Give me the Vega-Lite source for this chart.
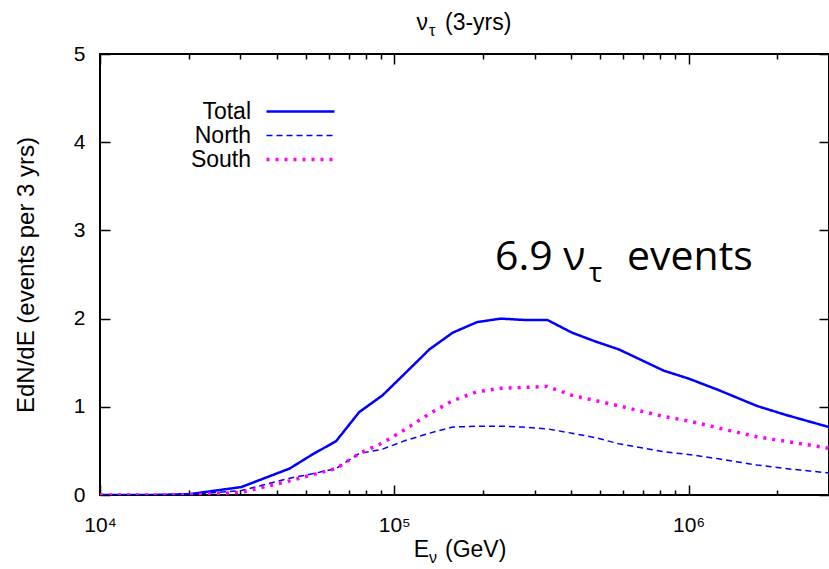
{
  "$schema": "https://vega.github.io/schema/vega-lite/v6.json",
  "width": 729,
  "height": 441,
  "autosize": {"type": "none"},
  "padding": {"left": 100, "top": 54, "right": 0, "bottom": 74},
  "background": "white",
  "config": {
    "view": {"stroke": "black", "strokeWidth": 2},
    "axis": {
      "grid": false,
      "domain": false,
      "tickColor": "black",
      "tickWidth": 1.5,
      "labelFont": "Liberation Sans",
      "labelFontSize": 21,
      "labelColor": "black",
      "titleFont": "Liberation Sans",
      "titleFontWeight": "normal",
      "titleColor": "#000000"
    },
    "text": {"font": "Liberation Sans", "color": "black"}
  },
  "layer": [
    {
      "data": {
        "values": [
          {"E": 10000, "dNdE": 0, "series": "Total"},
          {"E": 15000, "dNdE": 0, "series": "Total"},
          {"E": 20200, "dNdE": 0.01, "series": "Total"},
          {"E": 30200, "dNdE": 0.09, "series": "Total"},
          {"E": 44100, "dNdE": 0.30, "series": "Total"},
          {"E": 52700, "dNdE": 0.46, "series": "Total"},
          {"E": 63400, "dNdE": 0.61, "series": "Total"},
          {"E": 76000, "dNdE": 0.94, "series": "Total"},
          {"E": 91200, "dNdE": 1.13, "series": "Total"},
          {"E": 109600, "dNdE": 1.39, "series": "Total"},
          {"E": 131500, "dNdE": 1.65, "series": "Total"},
          {"E": 157800, "dNdE": 1.84, "series": "Total"},
          {"E": 191000, "dNdE": 1.96, "series": "Total"},
          {"E": 230000, "dNdE": 2.00, "series": "Total"},
          {"E": 275000, "dNdE": 1.985, "series": "Total"},
          {"E": 331000, "dNdE": 1.985, "series": "Total"},
          {"E": 402000, "dNdE": 1.84, "series": "Total"},
          {"E": 483000, "dNdE": 1.74, "series": "Total"},
          {"E": 580000, "dNdE": 1.65, "series": "Total"},
          {"E": 823000, "dNdE": 1.41, "series": "Total"},
          {"E": 1000000, "dNdE": 1.32, "series": "Total"},
          {"E": 1264000, "dNdE": 1.19, "series": "Total"},
          {"E": 1706000, "dNdE": 1.01, "series": "Total"},
          {"E": 2130000, "dNdE": 0.91, "series": "Total"},
          {"E": 3000000, "dNdE": 0.77, "series": "Total"},
          {"E": 10000, "dNdE": 0, "series": "North"},
          {"E": 15000, "dNdE": 0, "series": "North"},
          {"E": 20200, "dNdE": 0.005, "series": "North"},
          {"E": 30200, "dNdE": 0.05, "series": "North"},
          {"E": 44100, "dNdE": 0.19, "series": "North"},
          {"E": 52700, "dNdE": 0.24, "series": "North"},
          {"E": 63400, "dNdE": 0.30, "series": "North"},
          {"E": 76000, "dNdE": 0.47, "series": "North"},
          {"E": 91200, "dNdE": 0.52, "series": "North"},
          {"E": 109600, "dNdE": 0.62, "series": "North"},
          {"E": 131500, "dNdE": 0.70, "series": "North"},
          {"E": 157800, "dNdE": 0.77, "series": "North"},
          {"E": 191000, "dNdE": 0.78, "series": "North"},
          {"E": 230000, "dNdE": 0.78, "series": "North"},
          {"E": 275000, "dNdE": 0.77, "series": "North"},
          {"E": 331000, "dNdE": 0.75, "series": "North"},
          {"E": 402000, "dNdE": 0.70, "series": "North"},
          {"E": 483000, "dNdE": 0.65, "series": "North"},
          {"E": 580000, "dNdE": 0.58, "series": "North"},
          {"E": 823000, "dNdE": 0.49, "series": "North"},
          {"E": 1000000, "dNdE": 0.46, "series": "North"},
          {"E": 1264000, "dNdE": 0.41, "series": "North"},
          {"E": 1706000, "dNdE": 0.34, "series": "North"},
          {"E": 2130000, "dNdE": 0.30, "series": "North"},
          {"E": 3000000, "dNdE": 0.25, "series": "North"},
          {"E": 10000, "dNdE": 0, "series": "South"},
          {"E": 15000, "dNdE": 0, "series": "South"},
          {"E": 20200, "dNdE": 0.0, "series": "South"},
          {"E": 30200, "dNdE": 0.03, "series": "South"},
          {"E": 44100, "dNdE": 0.16, "series": "South"},
          {"E": 52700, "dNdE": 0.23, "series": "South"},
          {"E": 63400, "dNdE": 0.30, "series": "South"},
          {"E": 76000, "dNdE": 0.47, "series": "South"},
          {"E": 91200, "dNdE": 0.59, "series": "South"},
          {"E": 109600, "dNdE": 0.75, "series": "South"},
          {"E": 131500, "dNdE": 0.92, "series": "South"},
          {"E": 157800, "dNdE": 1.07, "series": "South"},
          {"E": 191000, "dNdE": 1.17, "series": "South"},
          {"E": 230000, "dNdE": 1.21, "series": "South"},
          {"E": 275000, "dNdE": 1.22, "series": "South"},
          {"E": 331000, "dNdE": 1.23, "series": "South"},
          {"E": 402000, "dNdE": 1.13, "series": "South"},
          {"E": 483000, "dNdE": 1.07, "series": "South"},
          {"E": 580000, "dNdE": 1.01, "series": "South"},
          {"E": 823000, "dNdE": 0.89, "series": "South"},
          {"E": 1000000, "dNdE": 0.84, "series": "South"},
          {"E": 1264000, "dNdE": 0.76, "series": "South"},
          {"E": 1706000, "dNdE": 0.66, "series": "South"},
          {"E": 2130000, "dNdE": 0.61, "series": "South"},
          {"E": 3000000, "dNdE": 0.53, "series": "South"}
        ]
      },
      "mark": {"type": "line", "clip": true},
      "encoding": {
        "x": {
          "field": "E",
          "type": "quantitative",
          "scale": {"type": "log", "domain": [10000, 3000000], "nice": false},
          "axis": {
            "orient": "bottom",
            "title": null,
            "values": [10000, 20000, 30000, 40000, 50000, 60000, 70000, 80000, 90000, 100000, 200000, 300000, 400000, 500000, 600000, 700000, 800000, 900000, 1000000, 2000000, 3000000],
            "labelExpr": "datum.value == 10000 ? '10⁴' : datum.value == 100000 ? '10⁵' : datum.value == 1000000 ? '10⁶' : ''",
            "labelFlush": false,
            "labelOverlap": false,
            "labelBaseline": "top",
            "labelPadding": 29,
            "tickSize": {"condition": {"test": "datum.value == 10000 || datum.value == 100000 || datum.value == 1000000", "value": -10}, "value": -5}
          }
        },
        "y": {
          "field": "dNdE",
          "type": "quantitative",
          "scale": {"domain": [0, 5], "nice": false},
          "axis": {
            "orient": "left",
            "values": [0, 1, 2, 3, 4, 5],
            "tickSize": -10,
            "labelPadding": 25,
            "title": "EdN/dE (events per 3 yrs)",
            "titleFontSize": 24,
            "titlePadding": 35
          }
        },
        "color": {
          "field": "series",
          "type": "nominal",
          "scale": {"domain": ["Total", "North", "South"], "range": ["#0000ff", "#0000ff", "#ff00ff"]},
          "legend": {
            "orient": "none",
            "legendX": 189,
            "legendY": 46,
            "title": null,
            "padding": 0,
            "rowPadding": 0,
            "symbolType": "M-4,0H4",
            "symbolSize": 289,
            "labelAlign": "right",
            "labelOffset": -61,
            "labelFont": "Liberation Sans",
            "labelFontSize": 23,
            "labelColor": "black"
          }
        },
        "strokeDash": {
          "field": "series",
          "type": "nominal",
          "scale": {"domain": ["Total", "North", "South"], "range": [[1, 0], [6, 4], [3, 6]]}
        },
        "strokeWidth": {
          "field": "series",
          "type": "nominal",
          "scale": {"type": "ordinal", "domain": ["Total", "North", "South"], "range": [2.5, 1.5, 3.5]}
        }
      }
    },
    {
      "data": {"values": [{}]},
      "mark": {"type": "text", "align": "left", "baseline": "alphabetic", "font": "Open Sans", "fontSize": 41},
      "encoding": {
        "x": {
          "datum": 219800,
          "type": "quantitative",
          "axis": {
            "orient": "top",
            "title": null,
            "labels": false,
            "values": [10000, 20000, 30000, 40000, 50000, 60000, 70000, 80000, 90000, 100000, 200000, 300000, 400000, 500000, 600000, 700000, 800000, 900000, 1000000, 2000000, 3000000],
            "tickSize": {"condition": {"test": "datum.value == 10000 || datum.value == 100000 || datum.value == 1000000", "value": -10}, "value": -5}
          }
        },
        "y": {
          "datum": 2.55,
          "type": "quantitative",
          "axis": {"orient": "right", "title": null, "labels": false, "values": [0, 1, 2, 3, 4, 5], "tickSize": -10}
        },
        "text": {"value": "6.9 ν"}
      }
    },
    {
      "data": {"values": [{}]},
      "mark": {"type": "text", "align": "left", "baseline": "alphabetic", "font": "Open Sans", "fontSize": 28},
      "encoding": {
        "x": {"datum": 458700, "type": "quantitative", "axis": null},
        "y": {"datum": 2.41, "type": "quantitative", "axis": null},
        "text": {"value": "τ"}
      }
    },
    {
      "data": {"values": [{}]},
      "mark": {"type": "text", "align": "left", "baseline": "alphabetic", "font": "Open Sans", "fontSize": 41},
      "encoding": {
        "x": {"datum": 617700, "type": "quantitative", "axis": null},
        "y": {"datum": 2.55, "type": "quantitative", "axis": null},
        "text": {"value": "events"}
      }
    },
    {
      "data": {"values": [{}]},
      "mark": {"type": "text", "align": "left", "baseline": "alphabetic", "fontSize": 23},
      "encoding": {
        "x": {"datum": 119000, "type": "quantitative", "axis": null},
        "y": {"datum": 5.27, "type": "quantitative", "axis": null},
        "text": {"value": "ν"}
      }
    },
    {
      "data": {"values": [{}]},
      "mark": {"type": "text", "align": "left", "baseline": "alphabetic", "fontSize": 16},
      "encoding": {
        "x": {"datum": 131200, "type": "quantitative", "axis": null},
        "y": {"datum": 5.2, "type": "quantitative", "axis": null},
        "text": {"value": "τ"}
      }
    },
    {
      "data": {"values": [{}]},
      "mark": {"type": "text", "align": "left", "baseline": "alphabetic", "fontSize": 23},
      "encoding": {
        "x": {"datum": 148700, "type": "quantitative", "axis": null},
        "y": {"datum": 5.27, "type": "quantitative", "axis": null},
        "text": {"value": "(3-yrs)"}
      }
    },
    {
      "data": {"values": [{}]},
      "mark": {"type": "text", "align": "left", "baseline": "alphabetic", "fontSize": 23},
      "encoding": {
        "x": {"datum": 116500, "type": "quantitative", "axis": null},
        "y": {"datum": -0.7, "type": "quantitative", "axis": null},
        "text": {"value": "E"}
      }
    },
    {
      "data": {"values": [{}]},
      "mark": {"type": "text", "align": "left", "baseline": "alphabetic", "fontSize": 16},
      "encoding": {
        "x": {"datum": 131200, "type": "quantitative", "axis": null},
        "y": {"datum": -0.77, "type": "quantitative", "axis": null},
        "text": {"value": "ν"}
      }
    },
    {
      "data": {"values": [{}]},
      "mark": {"type": "text", "align": "left", "baseline": "alphabetic", "fontSize": 23},
      "encoding": {
        "x": {"datum": 148700, "type": "quantitative", "axis": null},
        "y": {"datum": -0.7, "type": "quantitative", "axis": null},
        "text": {"value": "(GeV)"}
      }
    }
  ],
  "resolve": {"axis": {"x": "independent", "y": "independent"}}
}
